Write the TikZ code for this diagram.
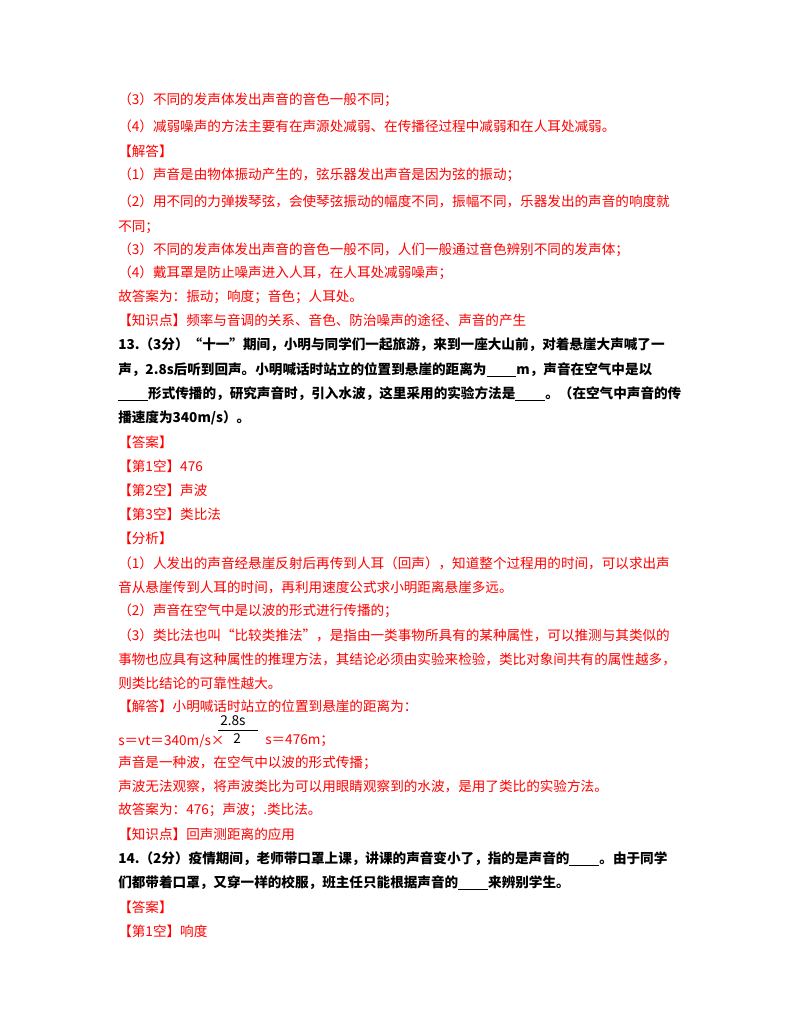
\documentclass[tikz,border=0pt]{standalone}
\usepackage{fontspec}
\newfontfamily\cjk{Noto Sans CJK SC}
\definecolor{ansred}{HTML}{FF0000}
\newcommand{\blank}{\rule[-1.5pt]{2.2em}{0.5pt}}
\tikzset{
  txt/.style={anchor=west, inner sep=0pt, font=\cjk\fontsize{10.2}{12}\selectfont},
  ans/.style={txt, text=ansred},
  qst/.style={txt, text=black, font=\cjk\bfseries\fontsize{10.2}{12}\selectfont},
}
\begin{document}
\begin{tikzpicture}[x=0.75pt,y=-0.75pt]
		\useasboundingbox (0,0) rectangle (800,1035);
		
		% end of question 12
		\node[ans] (a1) at (118,100) {（3）不同的发声体发出声音的音色一般不同；};
		\node[ans] (a2) at (118,126) {（4）减弱噪声的方法主要有在声源处减弱、在传播径过程中减弱和在人耳处减弱。};
		\node[ans] (a3) at (118,151) {【解答】};
		\node[ans] (a4) at (118,175) {（1）声音是由物体振动产生的，弦乐器发出声音是因为弦的振动；};
		\node[ans] (a5) at (118,201) {（2）用不同的力弹拨琴弦，会使琴弦振动的幅度不同，振幅不同，乐器发出的声音的响度就};
		\node[ans] (a6) at (118,227) {不同；};
		\node[ans] (a7) at (118,250) {（3）不同的发声体发出声音的音色一般不同，人们一般通过音色辨别不同的发声体；};
		\node[ans] (a8) at (118,273) {（4）戴耳罩是防止噪声进入人耳，在人耳处减弱噪声；};
		\node[ans] (a9) at (118,297) {故答案为：振动；响度；音色；人耳处。};
		\node[ans] (a10) at (118,320) {【知识点】频率与音调的关系、音色、防治噪声的途径、声音的产生};
		
		% question 13
		\node[qst] (q1) at (118,345) {13.（3分）“十一”期间，小明与同学们一起旅游，来到一座大山前，对着悬崖大声喊了一};
		\node[qst] (q2) at (118,370) {声，2.8s后听到回声。小明喊话时站立的位置到悬崖的距离为\blank m，声音在空气中是以};
		\node[qst] (q3) at (118,394) {\blank 形式传播的，研究声音时，引入水波，这里采用的实验方法是\blank 。（在空气中声音的传};
		\node[qst] (q4) at (118,418) {播速度为340m/s）。};
		\node[ans] (b1) at (118,442) {【答案】};
		\node[ans] (b2) at (118,466) {【第1空】476};
		\node[ans] (b3) at (118,490) {【第2空】声波};
		\node[ans] (b4) at (118,514) {【第3空】类比法};
		\node[ans] (b5) at (118,538) {【分析】};
		\node[ans] (b6) at (118,563) {（1）人发出的声音经悬崖反射后再传到人耳（回声），知道整个过程用的时间，可以求出声};
		\node[ans] (b7) at (118,587) {音从悬崖传到人耳的时间，再利用速度公式求小明距离悬崖多远。};
		\node[ans] (b8) at (118,611) {（2）声音在空气中是以波的形式进行传播的；};
		\node[ans] (b9) at (118,635) {（3）类比法也叫“比较类推法”，是指由一类事物所具有的某种属性，可以推测与其类似的};
		\node[ans] (b10) at (118,659) {事物也应具有这种属性的推理方法，其结论必须由实验来检验，类比对象间共有的属性越多，};
		\node[ans] (b11) at (118,683) {则类比结论的可靠性越大。};
		\node[ans] (b12) at (118,706) {【解答】小明喊话时站立的位置到悬崖的距离为：};
		\node[txt] (num) at (220,721) {2.8s};
		\draw[line width=0.6pt] (218,730) -- (258,730);
		\node[txt] (den) at (233,739) {2};
		\node[ans] (b13) at (118,741) {s＝vt＝340m/s×};
		\node[ans] (b14) at (265,741) {s＝476m；};
		\node[ans] (b15) at (118,763) {声音是一种波，在空气中以波的形式传播；};
		\node[ans] (b16) at (118,786) {声波无法观察，将声波类比为可以用眼睛观察到的水波，是用了类比的实验方法。};
		\node[ans] (b17) at (118,810) {故答案为：476；声波；.类比法。};
		\node[ans] (b18) at (118,834) {【知识点】回声测距离的应用};
		
		% question 14
		\node[qst] (r1) at (118,859) {14.（2分）疫情期间，老师带口罩上课，讲课的声音变小了，指的是声音的\blank 。由于同学};
		\node[qst] (r2) at (118,883) {们都带着口罩，又穿一样的校服，班主任只能根据声音的\blank 来辨别学生。};
		\node[ans] (c1) at (118,907) {【答案】};
		\node[ans] (c2) at (118,931) {【第1空】响度};
\end{tikzpicture}
\end{document}
